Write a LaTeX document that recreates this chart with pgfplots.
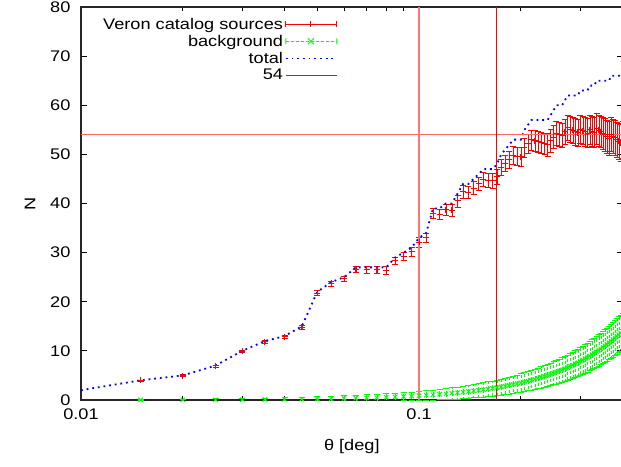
\documentclass[border=0pt]{standalone}
\usepackage{pgfplots}
\usepackage{pgfplotstable}
\pgfplotsset{compat=1.18}
\usepackage{fontspec}
\setmainfont{Liberation Sans}[FakeStretch=1.18]

\newcommand{\gfont}{\fontsize{15.4}{18}\selectfont}

% error bars as plain paths: bar plus cap, colour given explicitly
\pgfplotsset{
  my bar style/.style={},
  my cap style/.style={},
  error bars/draw error bar/.code 2 args={%
    \draw[/pgfplots/my bar style] #1 -- #2;
    \draw[/pgfplots/my cap style] #2 ++(-3pt,0pt) -- ++(6pt,0pt);},
}

% x  source counts  error  background
\pgfplotstableread{
x red err bg
0.015 3.98 0.14 0.02
0.020 4.97 0.19 0.04
0.025 6.95 0.23 0.05
0.030 9.92 0.28 0.08
0.035 11.89 0.33 0.11
0.040 12.86 0.37 0.14
0.045 14.82 0.42 0.18
0.050 21.78 0.47 0.22
0.055 23.74 0.51 0.26
0.060 24.69 0.56 0.32
0.065 26.63 0.61 0.37
0.070 26.57 0.66 0.43
0.075 26.51 0.70 0.49
0.080 26.44 0.75 0.56
0.085 28.37 0.80 0.63
0.090 29.29 0.84 0.71
0.095 30.21 0.89 0.79
0.100 32.13 0.94 0.88
0.105 33.04 0.98 0.97
0.110 37.94 1.03 1.06
0.115 37.84 1.08 1.16
0.120 38.74 1.12 1.26
0.125 38.63 1.17 1.37
0.130 40.52 1.22 1.48
0.135 42.41 1.26 1.60
0.140 42.29 1.31 1.72
0.145 43.16 1.36 1.84
0.150 44.03 1.40 1.97
0.155 44.90 1.45 2.10
0.160 44.76 1.50 2.24
0.165 44.62 1.54 2.38
0.170 45.47 1.59 2.53
0.175 47.32 1.64 2.68
0.180 48.17 1.68 2.84
0.185 49.01 1.73 3.00
0.190 49.84 1.78 3.16
0.195 49.67 1.82 3.33
0.200 49.50 1.87 3.50
0.205 51.32 1.92 3.68
0.210 52.14 1.96 3.86
0.215 52.96 2.01 4.04
0.220 52.77 2.06 4.24
0.225 52.57 2.10 4.43
0.230 52.37 2.15 4.63
0.235 52.17 2.20 4.83
0.240 51.96 2.25 5.04
0.245 52.75 2.29 5.25
0.250 53.53 2.34 5.47
0.255 54.31 2.39 5.69
0.260 54.09 2.43 5.92
0.265 53.86 2.48 6.14
0.270 54.62 2.53 6.38
0.275 55.38 2.57 6.62
0.280 55.14 2.62 6.86
0.285 54.89 2.67 7.11
0.290 54.64 2.71 7.36
0.295 54.39 2.76 7.61
0.300 55.13 2.81 7.88
0.305 54.86 2.85 8.14
0.310 54.59 2.90 8.41
0.315 54.32 2.95 8.68
0.320 55.04 2.99 8.96
0.325 54.76 3.04 9.24
0.330 54.47 3.09 9.53
0.335 55.18 3.13 9.82
0.340 54.89 3.18 10.12
0.345 54.59 3.23 10.42
0.350 54.28 3.27 10.72
0.355 53.97 3.32 11.03
0.360 53.66 3.37 11.34
0.365 53.34 3.41 11.66
0.370 54.02 3.46 11.98
0.375 53.70 3.51 12.31
0.380 53.37 3.55 12.64
0.385 53.03 3.60 12.97
0.390 52.69 3.65 13.31
0.395 52.35 3.70 13.65
0.400 53.00 3.74 14.00
}\veron

\pgfplotstableread{
x total
0.010 2
0.015 4
0.020 5
0.025 7
0.030 10
0.035 12
0.040 13
0.045 15
0.050 22
0.055 24
0.060 25
0.065 27
0.070 27
0.075 27
0.080 27
0.085 29
0.090 30
0.095 31
0.100 33
0.105 34
0.110 39
0.115 39
0.120 40
0.125 40
0.130 42
0.135 44
0.140 44
0.145 45
0.150 46
0.155 47
0.160 47
0.165 47
0.170 48
0.175 50
0.180 51
0.185 52
0.190 53
0.195 53
0.200 53
0.205 55
0.210 56
0.215 57
0.220 57
0.225 57
0.230 57
0.235 57
0.240 57
0.245 58
0.250 59
0.255 60
0.260 60
0.265 60
0.270 61
0.275 62
0.280 62
0.285 62
0.290 62
0.295 62
0.300 63
0.305 63
0.310 63
0.315 63
0.320 64
0.325 64
0.330 64
0.335 65
0.340 65
0.345 65
0.350 65
0.355 65
0.360 65
0.365 65
0.370 66
0.375 66
0.380 66
0.385 66
0.390 66
0.395 66
0.400 67
}\totaltab

\begin{document}
\begin{tikzpicture}
\begin{axis}[
  at={(0,0)}, anchor=south west,
  scale only axis,
  width=541.6pt, height=393pt,
  xmode=log,
  xmin=0.01, xmax=0.4,
  ymin=0, ymax=80,
  xtick={0.01,0.1}, xticklabels={0.01,0.1},
  minor xtick={0.02,0.03,0.04,0.05,0.06,0.07,0.08,0.09,0.2,0.3},
  ytick={0,10,20,30,40,50,60,70,80},
  /pgf/number format/assume math mode=true,
  tick align=inside,
  major tick length=6pt, minor tick length=4pt,
  tick style={black, line width=0.8pt},
  axis line style={black!85, line width=1.2pt},
  ticklabel style={font=\gfont},
  yticklabel style={xshift=-7pt},
  xticklabel style={yshift=-5pt},
  label style={font=\gfont},
  xlabel={θ [deg]}, ylabel={N},
  xlabel style={at={(axis description cs:0.5,-0.1196)}, anchor=center},
  ylabel style={at={(axis description cs:-0.0942,0.5)}, anchor=center},
  legend plot pos=right,
  legend cell align=right,
  legend style={draw=none, fill=none, inner sep=0pt,
    at={(axis description cs:0.4745,0.978)}, anchor=north east,
    font=\gfont, row sep=0.5pt,
    nodes={inner sep=2pt},
    /tikz/every even column/.append style={column sep=9pt, text height=11pt, text depth=3.5pt}},
]
% legend keys, drawn by hand in the gnuplot manner
\addlegendimage{line width=0.9pt, legend image code/.code={
    \draw[draw=red] (0pt,0pt) -- (51pt,0pt);
    \draw[draw=red] (0pt,-3pt) -- (0pt,3pt) (51pt,-3pt) -- (51pt,3pt)
      (25pt,-3pt) -- (25pt,3pt);}}
\addlegendentry{Veron catalog sources}
\addlegendimage{line width=0.9pt, legend image code/.code={
    \draw[draw=green, dash pattern=on 3pt off 2pt] (0pt,0pt) -- (51pt,0pt);
    \draw[draw=green] (0pt,-3pt) -- (0pt,3pt) (51pt,-3pt) -- (51pt,3pt)
      (22pt,-3pt) -- (28pt,3pt) (22pt,3pt) -- (28pt,-3pt);}}
\addlegendentry{background}
\addlegendimage{line width=1.8pt, legend image code/.code={
    \draw[draw=blue, dash pattern=on 1.8pt off 3.9pt] (0pt,0pt) -- (51pt,0pt);}}
\addlegendentry{total}
\addlegendimage{line width=1pt, legend image code/.code={
    \draw[draw=red] (0pt,0pt) -- (51pt,0pt);}}
\addlegendentry{54}
% Veron catalogue counts with error bars
\addplot[draw=red, only marks, mark=+, mark size=3pt, line width=0.9pt, forget plot,
  mark options={draw=red},
  my bar style/.style={draw=red}, my cap style/.style={draw=red},
  error bars/.cd, y dir=both, y explicit]
  table[x=x, y=red, y error=err] {\veron};
% background
\addplot[draw=green, only marks, mark=x, mark size=3pt, line width=0.9pt, forget plot,
  mark options={draw=green},
  my bar style/.style={draw=green, dash pattern=on 3pt off 2pt},
  my cap style/.style={draw=green},
  error bars/.cd, y dir=both, y explicit]
  table[x=x, y=bg, y error=err] {\veron};
% total
\addplot[draw=blue, line width=1.8pt, dash pattern=on 1.8pt off 3.9pt, forget plot]
  table[x=x, y=total] {\totaltab};
% level 54
\addplot[draw=red!60, line width=1.4pt, forget plot]
  coordinates {(0.01,54) (0.4,54)};
% vertical markers
\addplot[draw=red!55, line width=1.6pt, forget plot] coordinates {(0.1,0) (0.1,80)};
\addplot[draw=red, line width=1pt, forget plot] coordinates {(0.17,0) (0.17,80)};
\end{axis}
\pgfresetboundingbox
\useasboundingbox (-81pt,-66pt) rectangle (540pt,400pt);
\end{tikzpicture}
\end{document}
